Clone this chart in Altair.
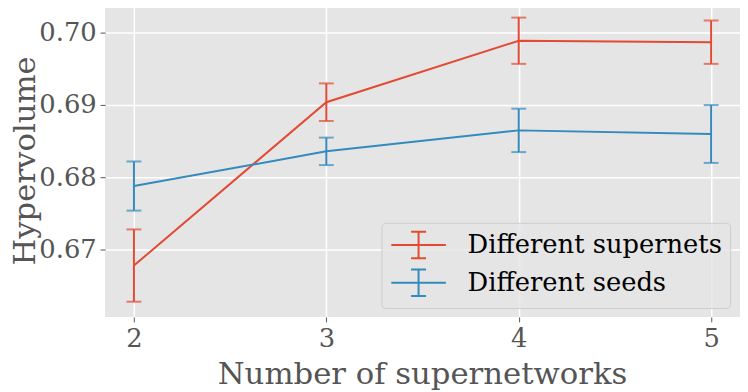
import altair as alt
import pandas as pd

x_vals = [2, 3, 4, 5]
series_names = ["Different supernets", "Different seeds"]
supernets_mean = [0.6678, 0.6904, 0.6989, 0.6987]
supernets_err = [0.0050, 0.0026, 0.0032, 0.0030]
seeds_mean = [0.6788, 0.6836, 0.6865, 0.6860]
seeds_err = [0.0034, 0.0019, 0.0030, 0.0040]
colors = ["#E24A33", "#348ABD"]

rows = []
for name, means, errs in [(series_names[0], supernets_mean, supernets_err),
                          (series_names[1], seeds_mean, seeds_err)]:
    for x, m, e in zip(x_vals, means, errs):
        rows.append({"series": name, "n": x, "hv": m, "lo": m - e, "hi": m + e})
df = pd.DataFrame(rows)

FONT = "DejaVu Serif"
xscale = alt.Scale(domain=[1.85, 5.15], nice=False, zero=False)
yscale = alt.Scale(domain=[0.6607, 0.7040], nice=False, zero=False)
cscale = alt.Scale(domain=series_names, range=colors)

# error-bar legend glyph; layout size 27px, drawn 55px wide
sym = "M-2.04,0H2.04M0,-0.99V0.99M-0.56,-0.99H0.56M-0.56,0.99H0.56"

base = alt.Chart(df)

line = base.mark_line(strokeWidth=2, clip=True).encode(
    x=alt.X("n:Q", scale=xscale,
            axis=alt.Axis(values=x_vals, format="d", title="Number of supernetworks",
                          titleX=320, titleY=67, titleBaseline="alphabetic")),
    y=alt.Y("hv:Q", scale=yscale,
            axis=alt.Axis(values=[0.67, 0.68, 0.69, 0.70], format=".2f", title="Hypervolume",
                          titleX=-95, titleY=158, titleBaseline="top", titleAngle=270)),
    color=alt.Color("series:N", scale=cscale, sort=series_names,
                    legend=alt.Legend(title=None, orient="none", legendX=279, legendY=221,
                                      symbolType=sym, symbolSize=729, symbolStrokeWidth=2,
                                      symbolOffset=15,
                                      labelFont=FONT, labelFontSize=26, labelColor="#000000",
                                      labelOffset=35, rowPadding=3,
                                      padding=8, fillColor="rgba(229,229,229,0.8)",
                                      strokeColor="#CCCCCC", cornerRadius=4,
                                      labelLimit=400)),
)

bars = base.mark_rule(strokeWidth=2).encode(
    x="n:Q", y="lo:Q", y2="hi:Q",
    color=alt.Color("series:N", scale=cscale, legend=None),
)
caps_lo = base.mark_tick(thickness=2, size=15, orient="horizontal").encode(
    x="n:Q", y="lo:Q", color=alt.Color("series:N", scale=cscale, legend=None),
)
caps_hi = base.mark_tick(thickness=2, size=15, orient="horizontal").encode(
    x="n:Q", y="hi:Q", color=alt.Color("series:N", scale=cscale, legend=None),
)

chart = alt.layer(line, bars, caps_lo, caps_hi).properties(
    width=641, height=316,
    padding={"left": 98, "top": -6, "right": 0, "bottom": 74},
    autosize=alt.AutoSizeParams(type="none"),
    background="white",
).configure_view(
    fill="#E5E5E5", stroke=None,
).configure_axis(
    grid=True, gridColor="#FFFFFF", gridWidth=1.5,
    domain=False, tickColor="#555555", tickSize=5, tickWidth=1,
    labelFont=FONT, labelFontSize=26, labelColor="#555555", labelPadding=4,
    titleFont=FONT, titleFontSize=31, titleColor="#555555", titleFontWeight="normal",
)

chart.save("out.html", embed_options={"renderer": "svg", "actions": False})
